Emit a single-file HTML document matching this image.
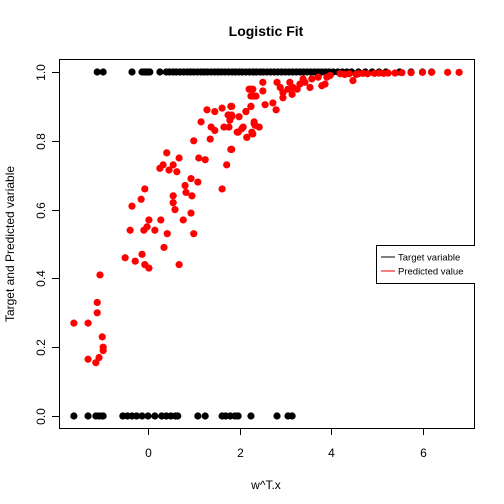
<!DOCTYPE html>
<html><head><meta charset="utf-8"><style>
body{margin:0;background:#fff}
svg{display:block;font-family:"Liberation Sans",Arial,sans-serif}
</style></head><body>
<svg id="chart" width="504" height="504" viewBox="0 0 504 504">
<defs><clipPath id="legclip"><rect x="0" y="0" width="475" height="504"/></clipPath></defs>
<text x="266" y="36" text-anchor="middle" font-size="14" font-weight="bold">Logistic Fit</text>
<text x="266" y="489" text-anchor="middle" font-size="12">w^T.x</text>
<text transform="translate(14,244) rotate(-90)" text-anchor="middle" font-size="12">Target and Predicted variable</text>
<rect x="59.5" y="59.5" width="415" height="369" fill="none" stroke="#000"/>
<g id="axes"></g>
<g id="marks"></g>
<g clip-path="url(#legclip)">
<rect x="376.5" y="245.5" width="110" height="38" fill="#fff" stroke="#000"/>
<line x1="381" y1="257" x2="395" y2="257" stroke="#000"/>
<text x="398" y="260.5" font-size="9.5">Target variable</text>
<line x1="381" y1="271" x2="395" y2="271" stroke="#f00"/>
<text x="398" y="274.5" font-size="9.5">Predicted value</text>
</g>
</svg>
<script>
const xTicks=[0,2,4,6];
const yTicks=[0,0.2,0.4,0.6,0.8,1.0];
const yTickLabels=["0.0","0.2","0.4","0.6","0.8","1.0"];
const predX=[-1.62,-1.31,-1.11,-1.11,-1.05,-1.0,-0.98,-0.98,-1.07,-1.14,-1.31,-0.5,-0.28,-0.13,-0.07,0.02,-0.39,-0.09,-0.02,0.02,0.15,0.28,0.42,0.35,0.68,-0.35,-0.15,-0.07,0.55,0.55,0.59,0.77,0.94,1.0,0.81,0.83,0.96,0.94,1.09,1.62,0.26,0.33,0.41,0.46,0.55,0.63,0.68,1.0,1.11,1.25,1.72,1.81,1.16,1.29,1.36,1.38,1.46,1.46,1.62,1.66,1.75,1.77,1.79,1.81,1.83,1.95,1.99,2.05,2.14,2.16,2.25,2.29,2.32,2.34,2.21,2.29,2.25,2.36,1.83,1.83,1.97,2.08,2.16,2.14,2.25,2.27,2.32,2.43,1.83,2.23,2.30,2.51,2.51,2.56,2.73,2.80,2.82,2.89,2.95,2.95,3.06,3.10,3.15,3.17,3.26,3.32,3.39,3.43,3.54,3.58,3.72,3.80,3.87,3.91,3.98,4.2,4.3,4.4,4.55,4.6,4.7,4.8,4.95,5.05,5.15,5.25,5.4,5.55,5.75,6.0,6.2,6.55,6.8,4.48];
const predY=[0.27,0.27,0.30,0.33,0.41,0.23,0.20,0.19,0.17,0.155,0.165,0.46,0.45,0.47,0.44,0.43,0.54,0.54,0.55,0.57,0.54,0.57,0.53,0.49,0.44,0.61,0.63,0.66,0.64,0.62,0.60,0.57,0.59,0.53,0.67,0.65,0.64,0.69,0.68,0.66,0.72,0.73,0.765,0.715,0.73,0.71,0.75,0.80,0.75,0.745,0.73,0.775,0.855,0.89,0.805,0.84,0.83,0.885,0.895,0.84,0.875,0.84,0.86,0.90,0.875,0.825,0.87,0.835,0.885,0.81,0.90,0.82,0.85,0.845,0.95,0.95,0.93,0.93,0.90,0.87,0.825,0.84,0.81,0.885,0.90,0.825,0.855,0.84,0.775,0.95,0.93,0.97,0.945,0.905,0.91,0.89,0.97,0.955,0.925,0.94,0.95,0.97,0.935,0.955,0.95,0.965,0.98,0.97,0.955,0.98,0.985,0.96,0.965,0.985,0.99,0.995,0.993,0.995,0.993,0.995,0.996,0.995,0.996,0.997,0.996,0.997,0.997,0.998,0.998,0.999,0.999,0.999,0.999,0.975];
const targetOneX=[-1.11,-0.98,-0.35,-0.13,-0.08,-0.04,0.0,0.04,0.26,0.4,0.47,0.55,0.62,0.7,0.78,0.86,0.93,1.0,1.08,1.16,1.23,1.3,1.38,1.46,1.53,1.6,1.68,1.76,1.84,1.91,1.99,2.06,2.14,2.22,2.3,2.37,2.45,2.52,2.6,2.68,2.76,2.84,2.92,3.0,3.08,3.16,3.24,3.32,3.4,3.48,3.56,3.64,3.72,3.8,3.88,3.96,4.05,4.15,4.25,4.35,4.45,4.6,4.75,4.9,5.05,5.2,5.5,5.75,6.0,6.2];
const targetZeroX=[-1.62,-1.31,-1.14,-1.07,-1.0,-0.98,-0.55,-0.45,-0.35,-0.25,-0.13,0.0,0.15,0.3,0.4,0.5,0.6,0.65,1.09,1.25,1.62,1.7,1.8,1.9,1.97,2.25,2.82,3.06,3.15];
const sx=v=>148+v*45.75, sy=v=>416-v*344;
const NS="http://www.w3.org/2000/svg";
const axes=document.getElementById('axes'), marks=document.getElementById('marks');
function mk(t,a,p){const e=document.createElementNS(NS,t);for(const k in a)e.setAttribute(k,a[k]);p.appendChild(e);return e;}
let ax=mk('line',{x1:sx(xTicks[0]),x2:sx(xTicks[xTicks.length-1]),y1:428.5,y2:428.5,stroke:'#000'},axes);


xTicks.forEach(v=>{const x=Math.round(sx(v))+0.5;
 const t=mk('line',{x1:x,x2:x,y1:428,y2:435,stroke:'#000'},axes);
 
 
 const l=mk('text',{x:x,y:457,'text-anchor':'middle','font-size':12},axes);l.textContent=v;
 
 });
let ay=mk('line',{x1:59.5,x2:59.5,y1:sy(0),y2:sy(1),stroke:'#000'},axes);


yTicks.forEach((v,i)=>{const y=Math.round(sy(v))+0.5;
 const t=mk('line',{x1:52,x2:59.5,y1:y,y2:y,stroke:'#000'},axes);
 
 
 const l=mk('text',{transform:`translate(45,${y}) rotate(-90)`,'text-anchor':'middle','font-size':12},axes);l.textContent=yTickLabels[i];
 
 });
function dot(x,y,c,n){const d=mk('circle',{cx:sx(x),cy:sy(y),r:3.6,fill:c},marks);
 
 }
targetOneX.forEach(x=>dot(x,1,'#000','target-point'));
targetZeroX.forEach(x=>dot(x,0,'#000','target-point'));
predX.forEach((x,i)=>dot(x,predY[i],'#f00','predicted-point'));
</script>
</body></html>
